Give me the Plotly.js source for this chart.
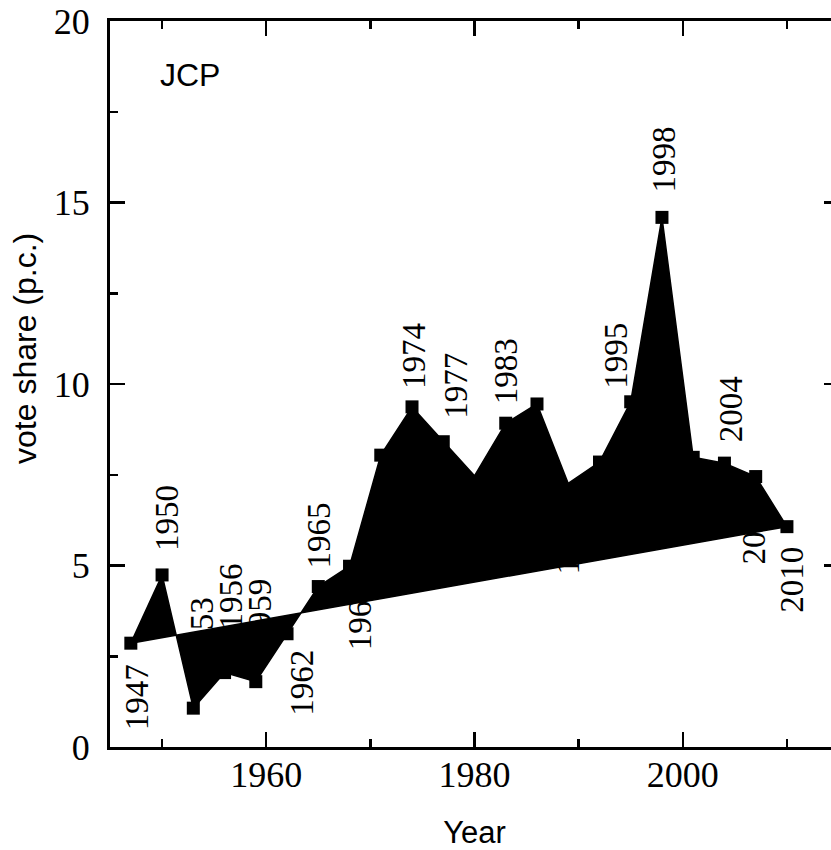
<!DOCTYPE html>
<html>
<head>
<meta charset="utf-8">
<script src="https://cdn.plot.ly/plotly-3.0.1.min.js"></script>
<style>
  html, body { margin: 0; padding: 0; overflow: hidden; background: #fff; }
  #chart { width: 845px; height: 850px; }
</style>
</head>
<body>
<div id="chart"></div>
<script>
// ---- data ----
const years = [1947, 1950, 1953, 1956, 1959, 1962, 1965, 1968, 1971, 1974, 1977,
               1980, 1983, 1986, 1989, 1992, 1995, 1998, 2001, 2004, 2007, 2010];
const share = [2.86, 4.74, 1.07, 2.05, 1.80, 3.12, 4.42, 4.98, 8.04, 9.37, 8.41,
               7.47, 8.92, 9.45, 7.26, 7.85, 9.51, 14.59, 7.98, 7.82, 7.45, 6.07];
const pointLabels = years.map(String);
const xTickVals = [1960, 1980, 2000];
const xTickText = ['1960', '1980', '2000'];
const yTickVals = [0, 5, 10, 15, 20];
const yTickText = ['0', '5', '10', '15', '20'];
const partyName = 'JCP';

// ---- style / placement ----
const noMarkerYears = [1980, 1989];
// label centre offset from the point, in pixels (positive = below / right)
const labelOffsetPx = [54, -57, -78, -76, -70, 49, -51, 51, 80, -51, -56,
                       50, -52, 70, 58, 55, -46, -58, 50, -54, 55, 53];
const labelShiftPx = [2, 1, 5, 2, 0, 11, -3, 6, 0, -2, 9,
                      0, -4, 0, -4, 0, -19, -2, 0, 3, -6, 1];
const plotW = 729, xSpan = 70, plotH = 726, yMax = 20;
const pxPerYear = plotW / xSpan;
const pxPerUnit = plotH / yMax;
const serif = 'Liberation Serif';
const sans = 'Liberation Sans';

const markerSizes = years.map(y => noMarkerYears.includes(y) ? 0 : 13);

const labelShapes = years.map((yr, i) => {
  const c = share[i] - labelOffsetPx[i] / pxPerUnit;
  const cx = yr + labelShiftPx[i] / pxPerYear;
  return {
    type: 'rect', xref: 'x', yref: 'y', layer: 'below',
    x0: cx - 0.3, x1: cx + 0.3, y0: c - 0.05, y1: c + 0.05,
    line: {width: 0}, fillcolor: 'rgba(0,0,0,0)',
    label: {text: pointLabels[i], textangle: -90, textposition: 'middle center',
            font: {family: serif, size: 33, color: '#000'}}
  };
});

const last = years.length - 1;
const traces = [
  {
    x: years, y: share, type: 'scatter', mode: 'lines+markers',
    fill: 'toself', fillcolor: '#000',
    line: {color: '#000', width: 1.5},
    marker: {symbol: 'square', size: markerSizes, color: '#000', opacity: 1,
             line: {width: 0, color: '#000'}},
    hoverinfo: 'skip', showlegend: false
  },
  {
    x: [years[0], years[last]], y: [share[0], share[last]],
    type: 'scatter', mode: 'lines',
    line: {color: '#000', width: 1.5},
    hoverinfo: 'skip', showlegend: false
  }
];

const axisCommon = {
  showline: true, linecolor: '#000', linewidth: 3, mirror: 'allticks',
  ticks: 'inside', ticklen: 15, tickwidth: 2.5, tickcolor: '#000',
  showgrid: false, zeroline: false,
  tickfont: {family: serif, size: 36, color: '#000'}
};

const layout = {
  width: 845, height: 850,
  margin: {l: 110, r: 6, t: 21, b: 103},
  font: {family: serif, size: 33, color: '#000'},
  paper_bgcolor: '#fff', plot_bgcolor: '#fff',
  showlegend: false,
  xaxis: Object.assign({}, axisCommon, {
    range: [1945, 2015], tickmode: 'array', tickvals: xTickVals, ticktext: xTickText,
    ticklabelstandoff: -6,
    minor: {dtick: 10, tick0: 1950, ticks: 'inside', ticklen: 8, tickwidth: 2.5, tickcolor: '#000'},
    title: {text: 'Year', font: {family: sans, size: 31, color: '#000'}, standoff: 36}
  }),
  yaxis: Object.assign({}, axisCommon, {
    range: [0, 20], tickmode: 'array', tickvals: yTickVals, ticktext: yTickText,
    ticklabelstandoff: 10,
    minor: {dtick: 2.5, tick0: 0, ticks: 'inside', ticklen: 8, tickwidth: 2.5, tickcolor: '#000'}
  }),
  shapes: labelShapes,
  annotations: [
    {text: partyName, xref: 'paper', yref: 'paper', x: 0.0658, y: 0.9256,
     xanchor: 'left', yanchor: 'middle', showarrow: false,
     font: {family: sans, size: 32, color: '#000'}},
    {text: 'vote share (p.c.)', xref: 'paper', yref: 'paper', x: -0.1166, y: 0.5496,
     xanchor: 'center', yanchor: 'middle', textangle: -90, showarrow: false,
     font: {family: sans, size: 32, color: '#000'}}
  ]
};

Plotly.newPlot('chart', traces, layout, {displayModeBar: false, staticPlot: true});
</script>
</body>
</html>
